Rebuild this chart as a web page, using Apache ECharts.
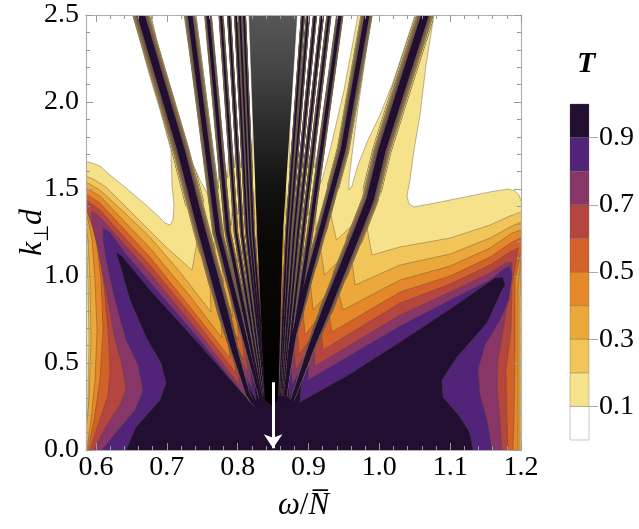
<!DOCTYPE html>
<html>
<head>
<meta charset="utf-8">
<script src="https://cdn.jsdelivr.net/npm/echarts@6.0.0/dist/echarts.min.js"></script>
<style>
html,body{margin:0;padding:0;background:#ffffff;}
#chart{width:639px;height:529px;}
</style>
</head>
<body>
<div id="chart"></div>
<script>
// ================= DATA =================
const xRange = [0.5859, 1.2];
const yRange = [0, 2.5];
const xTickLabels = [0.6, 0.7, 0.8, 0.9, 1.0, 1.1, 1.2];
const xMinorTicks = [0.62,0.64,0.66,0.68,0.72,0.74,0.76,0.78,0.82,0.84,0.86,0.88,0.92,0.94,0.96,0.98,1.02,1.04,1.06,1.08,1.12,1.14,1.16,1.18];
const yTickLabels = [0, 0.5, 1.0, 1.5, 2.0, 2.5];
const yMinorTicks = [0.1,0.2,0.3,0.4,0.6,0.7,0.8,0.9,1.1,1.2,1.3,1.4,1.6,1.7,1.8,1.9,2.1,2.2,2.3,2.4];
const cbBounds = [0,0.1,0.2,0.3,0.4,0.5,0.6,0.7,0.8,0.9,1.0];
const cbTickLabels = [0.1, 0.3, 0.5, 0.7, 0.9];
const arrowFrom = [0.85, 0.39];
const arrowTo = [0.85, 0.01];

// resonance fringes (T≈1 ridges): centre lines [ω/N, k⊥d], top -> bottom
const fringeL1 = [[0.659,2.56],[0.6635,2.5],[0.7200,1.724],[0.7482,1.276],[0.7722,0.920],[0.7934,0.603],[0.8160,0.299],[0.8287,0.247]];
const fringeL2 = [[0.7313,2.56],[0.7327,2.5],[0.7722,1.247],[0.8344,0.259]];
const fringeL3 = [[0.7567,2.56],[0.7581,2.5],[0.7864,1.247],[0.8358,0.259]];
const fringeL4 = [[0.7751,2.56],[0.7765,2.5],[0.7977,1.247],[0.8372,0.259]];
const fringeL5 = [[0.7864,2.56],[0.7878,2.5],[0.8061,1.247],[0.8386,0.259]];
const fringeL6 = [[0.7963,2.56],[0.7977,2.5],[0.8132,1.247],[0.8400,0.259]];
const fringeL7 = [[0.8019,2.56],[0.8033,2.5],[0.8174,1.247],[0.8407,0.259]];
const fringeL8 = [[0.8075,2.56],[0.8089,2.5],[0.8217,1.247],[0.8414,0.259]];
const noiseLeft  = [[0.8146,2.56],[0.8160,2.5],[0.8273,1.247],[0.8386,0.287]];
const noiseRight = [[0.8852,2.56],[0.8838,2.5],[0.8640,1.247],[0.8570,0.287]];
const noiseTip = [0.8485, 0.255];
const fringeR8 = [[0.8936,2.56],[0.8922,2.5],[0.8697,1.247],[0.8584,0.259]];
const fringeR7 = [[0.9007,2.56],[0.8993,2.5],[0.8739,1.247],[0.8598,0.259]];
const fringeR6 = [[0.9106,2.56],[0.9092,2.5],[0.8796,1.247],[0.8612,0.259]];
const fringeR5 = [[0.9205,2.56],[0.9191,2.5],[0.8852,1.247],[0.8626,0.259]];
const fringeR4 = [[0.9304,2.56],[0.9290,2.5],[0.8922,1.247],[0.8640,0.259]];
const fringeR3 = [[0.9459,2.56],[0.9445,2.5],[0.9021,1.247],[0.8654,0.259]];
const fringeR2 = [[0.9840,2.56],[0.9826,2.5],[0.9487,1.724],[0.9191,1.276],[0.8979,0.960],[0.8739,0.575],[0.8668,0.259]];
const fringeR1 = [[1.0673,2.56],[1.0645,2.5],[1.0306,2.069],[1.0038,1.724],[0.9868,1.437],[0.9713,1.276],[0.9304,0.862],[0.9050,0.603],[0.8824,0.345],[0.8739,0.253]];

// k⊥d of the tongue tips between neighbouring fringes, for T = 0.1 ... 0.9
const tipsL1L2  = [1.420,1.149,0.960,0.764,0.632,0.517,0.443,0.362,0.287];
const tipsL2L3  = [1.506,1.236,1.034,0.833,0.690,0.575,0.489,0.402,0.305];
const tipsL3L4  = [1.563,1.293,1.080,0.874,0.718,0.592,0.506,0.414,0.310];
const tipsInner = [1.621,1.351,1.121,0.908,0.747,0.615,0.517,0.425,0.316];
const tipsR3R2  = [1.517,1.264,1.063,0.862,0.707,0.586,0.500,0.414,0.310];
const tipsR2R1  = [1.494,1.207,1.006,0.805,0.661,0.546,0.460,0.379,0.293];

// left lobe: T >= 0.2 ... 0.9 contours (bottom -> left edge -> arm -> tip at fringe L1)
const leftLobe02 = [[0.5887,-0.057],[0.5887,0.287],[0.5901,0.632],[0.5887,0.977],[0.5859,1.207],[0.5774,1.207],[0.5774,1.575],[0.5859,1.575],[0.5986,1.552],[0.6141,1.511],[0.6565,1.339],[0.6989,1.167],[0.7228,1.080],[0.7356,1.034]];
const leftLobe03 = [[0.5774,-0.057],[0.5774,0.115],[0.5859,0.115],[0.5901,0.287],[0.5929,0.632],[0.5915,0.977],[0.5887,1.207],[0.5859,1.293],[0.5774,1.293],[0.5774,1.540],[0.5859,1.540],[0.6056,1.494],[0.6409,1.362],[0.6762,1.224],[0.7186,1.023],[0.7624,0.793]];
const leftLobe04 = [[0.5873,-0.057],[0.5873,0],[0.5929,0.172],[0.5986,0.402],[0.6014,0.690],[0.5986,0.977],[0.5944,1.207],[0.5887,1.322],[0.5859,1.351],[0.5774,1.351],[0.5774,1.506],[0.5859,1.506],[0.6056,1.460],[0.6409,1.310],[0.6762,1.161],[0.7327,0.885],[0.7779,0.644]];
const leftLobe05 = [[0.5887,-0.057],[0.5887,0],[0.5972,0.172],[0.6056,0.402],[0.6099,0.690],[0.6071,0.977],[0.6014,1.178],[0.5944,1.293],[0.5873,1.379],[0.5774,1.379],[0.5774,1.471],[0.5859,1.471],[0.6056,1.420],[0.6409,1.264],[0.6762,1.109],[0.7327,0.822],[0.7892,0.529]];
const leftLobe06 = [[0.5915,-0.057],[0.5915,0],[0.6028,0.144],[0.6169,0.316],[0.6198,0.460],[0.6169,0.690],[0.6113,0.948],[0.6042,1.149],[0.5958,1.276],[0.5887,1.356],[0.5859,1.402],[0.5859,1.437],[0.6056,1.379],[0.6409,1.218],[0.6762,1.063],[0.7398,0.747],[0.7977,0.443]];
const leftLobe07 = [[0.5972,-0.057],[0.5972,0],[0.6127,0.126],[0.6339,0.259],[0.6424,0.345],[0.6367,0.489],[0.6254,0.661],[0.6169,0.862],[0.6056,1.092],[0.5972,1.264],[0.5929,1.339],[0.5944,1.374],[0.6056,1.339],[0.6409,1.178],[0.6762,1.017],[0.7468,0.667],[0.8033,0.368]];
const leftLobe08 = [[0.6085,-0.057],[0.6085,0],[0.6311,0.115],[0.6551,0.230],[0.6664,0.345],[0.6593,0.489],[0.6424,0.632],[0.6268,0.862],[0.6141,1.092],[0.6099,1.207],[0.6099,1.276],[0.6198,1.253],[0.6409,1.132],[0.6762,0.966],[0.7468,0.632],[0.8118,0.299]];
const leftLobe09 = [[0.6424,-0.057],[0.6424,0],[0.6565,0.132],[0.6904,0.287],[0.6989,0.385],[0.6918,0.500],[0.6706,0.649],[0.6480,0.862],[0.6339,1.063],[0.6282,1.138],[0.6367,1.115],[0.6762,0.920],[0.7468,0.603],[0.8237,0.247]];

// right lobe: T >= 0.2 ... 0.9 contours (tip at fringe R1 -> arm -> right edge -> bottom)
const rightLobe02 = [[0.9897,1.121],[1.0292,1.167],[1.0998,1.218],[1.1562,1.293],[1.1845,1.345],[1.2,1.368],[1.2127,1.368],[1.2127,-0.057]];
const rightLobe03 = [[0.9657,0.948],[1.0292,1.063],[1.0998,1.126],[1.1562,1.218],[1.1873,1.287],[1.2,1.310],[1.2127,1.310],[1.2127,1.092],[1.2,1.063],[1.1986,0.862],[1.1986,-0.057]];
const rightLobe04 = [[0.9487,0.805],[1.0292,0.977],[1.0998,1.057],[1.1562,1.161],[1.1873,1.247],[1.2,1.264],[1.2127,1.264],[1.2127,1.121],[1.2,1.103],[1.1958,0.920],[1.1958,0.575],[1.1958,-0.057]];
const rightLobe05 = [[0.9332,0.678],[1.0292,0.908],[1.0998,1.000],[1.1562,1.109],[1.1873,1.195],[1.2,1.218],[1.2127,1.218],[1.2127,1.149],[1.2,1.138],[1.1916,0.977],[1.1916,0.575],[1.1901,0.172],[1.1887,0],[1.1887,-0.057]];
const rightLobe06 = [[0.9205,0.575],[1.0292,0.845],[1.0998,0.954],[1.1562,1.063],[1.1845,1.138],[1.1958,1.161],[1.1930,1.080],[1.1873,0.948],[1.1859,0.690],[1.1789,0.460],[1.1803,0.172],[1.1817,0],[1.1817,-0.057]];
const rightLobe07 = [[0.9092,0.483],[1.0292,0.776],[1.0998,0.908],[1.1562,1.017],[1.1789,1.075],[1.1873,1.080],[1.1873,1.006],[1.1817,0.862],[1.1746,0.690],[1.1675,0.517],[1.1661,0.374],[1.1703,0.172],[1.1732,0],[1.1732,-0.057]];
const rightLobe08 = [[0.8993,0.402],[1.0292,0.713],[1.0998,0.862],[1.1562,0.977],[1.1775,1.046],[1.1845,1.057],[1.1873,1.006],[1.1831,0.862],[1.1703,0.747],[1.1492,0.603],[1.1393,0.460],[1.1421,0.316],[1.1520,0.172],[1.1590,0],[1.1604,-0.057]];
const rightLobe09 = [[0.8880,0.276],[0.9586,0.437],[1.0292,0.621],[1.0998,0.810],[1.1633,0.989],[1.1746,0.994],[1.1775,0.948],[1.1732,0.920],[1.1520,0.730],[1.1097,0.534],[1.0885,0.402],[1.0899,0.305],[1.1139,0.190],[1.1280,0.098],[1.1323,0],[1.1323,-0.057]];

// T < 0.1 (white) regions
const whiteTopLeft = [[0.5774,2.529],[0.5774,1.649],[0.5901,1.655],[0.6056,1.632],[0.6198,1.580],[0.6424,1.506],[0.6706,1.408],[0.6875,1.345],[0.6974,1.305],[0.7045,1.293],[0.7087,1.322],[0.7101,1.408],[0.7073,1.523],[0.7059,1.724],[0.6904,1.954],[0.6734,2.184],[0.6522,2.5],[0.6522,2.529]];
const whiteL1L2 = [[0.6777,2.529],[0.6777,2.5],[0.6989,2.115],[0.7271,1.736],[0.7468,1.552],[0.7609,1.448],[0.7666,1.420],[0.7708,1.443],[0.7666,1.552],[0.7525,1.736],[0.7384,2.115],[0.7242,2.5],[0.7242,2.529]];
const whiteR3R2 = [[0.9445,2.529],[0.9445,2.5],[0.9304,2.011],[0.9205,1.667],[0.9148,1.552],[0.9148,1.517],[0.9191,1.552],[0.9304,1.724],[0.9502,2.069],[0.9699,2.5],[0.9699,2.529]];
const whiteR2R1 = [[0.9897,2.529],[0.9897,2.5],[0.9798,2.241],[0.9685,1.925],[0.9614,1.695],[0.9572,1.552],[0.9572,1.494],[0.9614,1.517],[0.9699,1.638],[0.9840,1.782],[1.0009,1.925],[1.0179,2.098],[1.0320,2.270],[1.0504,2.5],[1.0504,2.529]];
const whiteTopRight = [[1.0772,2.529],[1.0772,2.5],[1.0659,2.213],[1.0574,1.925],[1.0490,1.724],[1.0433,1.552],[1.0391,1.460],[1.0419,1.414],[1.0490,1.397],[1.0715,1.414],[1.1139,1.448],[1.1562,1.483],[1.1817,1.500],[1.1916,1.489],[1.1972,1.466],[1.2000,1.431],[1.2127,1.431],[1.2127,2.529]];

// ================= STYLE =================
const FONT = 'Liberation Serif';
const levelColors = ['#f7e28c','#f2c55b','#eba83b','#e48829','#d5612a','#b4463f','#873667','#512379','#210e30'];
const cbColors = ['#ffffff'].concat(levelColors);
const contourColor = 'rgba(80,70,50,0.55)';
const rimColor = '#6a604a';
const frameColor = '#b0b0b0';
const stripWidths = {
  big:   [18,15.5,14,12.5,11.5,10.5,9.5,8.5,7.5],
  mid:   [11.5,10,9,8,7.3,6.7,6.1,5.5,4.8],
  small: [6.5,5.8,5.3,4.9,4.5,4.2,3.9,3.6,3.2],
  thin:  [4,3.6,3.3,3.1,2.9,2.7,2.5,2.3,2.0],
  hair:  [3,2.8,2.6,2.4,2.3,2.2,2.1,2.0,1.8]
};
const wallClass = ['big','mid','small','thin','hair','hair','hair','hair',null,null,'hair','hair','hair','hair','thin','small','mid','big'];
const D_LEVEL = 0.15, D_WHITE = 0.25, TAPER_FROM = 0.8, TAPER_STEP = 0.04;
// fringes get thinner where they converge near the bottom of the fan
function taper(k){ return k >= TAPER_FROM ? 1 : Math.max(0.35, 0.4 + 0.6 * (k - 0.25) / (TAPER_FROM - 0.25)); }

// ================= GEOMETRY HELPERS =================
const walls = [fringeL1,fringeL2,fringeL3,fringeL4,fringeL5,fringeL6,fringeL7,fringeL8,noiseLeft,noiseRight,fringeR8,fringeR7,fringeR6,fringeR5,fringeR4,fringeR3,fringeR2,fringeR1];
const leftArms = [leftLobe02,leftLobe03,leftLobe04,leftLobe05,leftLobe06,leftLobe07,leftLobe08,leftLobe09];
const rightArms = [rightLobe02,rightLobe03,rightLobe04,rightLobe05,rightLobe06,rightLobe07,rightLobe08,rightLobe09];
const gapTable = [null,tipsL1L2,tipsL2L3,tipsL3L4,tipsInner,tipsInner,tipsInner,tipsInner,tipsInner,tipsInner,tipsInner,tipsInner,tipsInner,tipsInner,tipsInner,tipsR3R2,tipsR2R1];
const minK = arr => Math.min.apply(null, arr.map(p => p[1]));
function gapLeftWall(g){ return g <= 8 ? g - 1 : g; }
function gapRightWall(g){ return g <= 8 ? g : g + 1; }
function wallLeftGap(w){ return w <= 7 ? w : w - 1; }
function wallRightGap(w){ return w <= 7 ? w + 1 : w; }
function tipK(g, li){
  if (g === 0) return li === 0 ? minK(whiteTopLeft) : leftArms[li-1][leftArms[li-1].length-1][1];
  if (g === 17) return li === 0 ? minK(whiteTopRight) : rightArms[li-1][0][1];
  return gapTable[g][li];
}
function wallX(wall, k){
  if (k >= wall[0][1]) return wall[0][0];
  for (let i = 0; i < wall.length - 1; i++) {
    const a = wall[i], b = wall[i+1];
    if (k <= a[1] && k >= b[1]) { const t = (a[1]-k)/(a[1]-b[1]); return a[0] + t*(b[0]-a[0]); }
  }
  return wall[wall.length-1][0];
}
function wallAbove(wall, k0){
  const out = [];
  for (let i = 0; i < wall.length; i++) { if (wall[i][1] > k0) out.push(wall[i]); }
  if (k0 > wall[wall.length-1][1]) out.push([wallX(wall, k0), k0]);
  return out;
}
// pieces of a fringe centre line above kmin: one long piece above TAPER_FROM, short pieces below
function wallPieces(wall, kmin){
  const pieces = [];
  const lo = Math.max(kmin, wall[wall.length-1][1]);
  if (lo < wall[0][1]) {
    const upLow = Math.max(lo, TAPER_FROM);
    const up = wall.filter(p => p[1] > upLow);
    up.push([wallX(wall, upLow), upLow]);
    if (up.length >= 2) pieces.push({ pts: up, k: 2 });
  }
  let k = Math.min(TAPER_FROM, wall[0][1]);
  while (k > lo + 1e-6) {
    const k2 = Math.max(lo, k - TAPER_STEP);
    pieces.push({ pts: [[wallX(wall, k), k], [wallX(wall, k2), k2]], k: (k + k2) / 2 });
    k = k2;
  }
  return pieces;
}
function levelPolygon(li){
  const out = leftArms[li-1].slice();
  let prevK = out[out.length-1][1];
  for (let g = 1; g <= 16; g++) {
    const kg = gapTable[g][li];
    const lw = walls[gapLeftWall(g)], rw = walls[gapRightWall(g)];
    const kc = Math.max(prevK, kg) + D_LEVEL;
    if (g === 9) out.push([wallX(walls[8], kc), kc]);
    out.push([wallX(lw, kc), kc]);
    out.push([(wallX(lw, kg) + wallX(rw, kg)) / 2, kg]);
    prevK = kg;
  }
  const ra = rightArms[li-1];
  const kc = Math.max(prevK, ra[0][1]) + D_LEVEL;
  out.push([wallX(fringeR1, kc), kc]);
  return out.concat(ra);
}

function renderField(params, api){
  const cs = params.coordSys;
  const C = p => api.coord(p);
  const kids = [];
  const addPoly = (arr, fill, stroke) => kids.push({
    type: 'polygon', silent: true, shape: { points: arr.map(C) },
    style: { fill: fill, stroke: stroke ? contourColor : null, lineWidth: stroke ? 0.7 : 0 }
  });
  const addLine = (arr, color, w, cap) => { if (arr.length < 2) return; kids.push({
    type: 'polyline', silent: true, shape: { points: arr.map(C) },
    style: { fill: null, stroke: color, lineWidth: w, lineCap: cap || 'butt', lineJoin: 'round' }
  }); };
  const drawStrips = li => {
    for (let w = 0; w < walls.length; w++) {
      if (!wallClass[w]) continue;
      const wd = stripWidths[wallClass[w]][li];
      const kclip = Math.max(tipK(wallLeftGap(w), li), tipK(wallRightGap(w), li));
      wallPieces(walls[w], kclip).forEach(pc => addLine(pc.pts, rimColor, wd * taper(pc.k) + 1.2, 'round'));
    }
    for (let w = 0; w < walls.length; w++) {
      if (!wallClass[w]) continue;
      const wd = stripWidths[wallClass[w]][li];
      wallPieces(walls[w], -1).forEach(pc => addLine(pc.pts, levelColors[li], wd * taper(pc.k), 'round'));
    }
  };
  // T >= 0.1 everywhere except the white regions
  addPoly([[xRange[0]-0.03,-0.1],[xRange[1]+0.03,-0.1],[xRange[1]+0.03,2.6],[xRange[0]-0.03,2.6]], levelColors[0], false);
  for (let g = 2; g <= 14; g++) {
    const k = tipK(g, 0);
    const lw = walls[gapLeftWall(g)], rw = walls[gapRightWall(g)];
    const pts = wallAbove(lw, k + D_WHITE).concat([[(wallX(lw,k)+wallX(rw,k))/2, k]], wallAbove(rw, k + D_WHITE).reverse());
    addPoly(pts, '#ffffff', true);
  }
  drawStrips(0);
  [whiteTopLeft, whiteL1L2, whiteR3R2, whiteR2R1, whiteTopRight].forEach(h => addPoly(h, '#ffffff', true));
  for (let li = 1; li <= 8; li++) {
    addPoly(levelPolygon(li), levelColors[li], true);
    drawStrips(li);
  }
  // unresolved (numerically noisy) region of very dense fringes
  kids.push({
    type: 'polygon', silent: true,
    shape: { points: noiseLeft.concat([noiseTip], noiseRight.slice().reverse()).map(C) },
    style: { fill: new echarts.graphic.LinearGradient(0, 0, 0, 1, [
      {offset: 0, color: '#5a5a5a'}, {offset: 0.15, color: '#474747'}, {offset: 0.3, color: '#2c2c2c'},
      {offset: 0.45, color: '#131313'}, {offset: 0.6, color: '#0a0805'}, {offset: 1, color: '#000000'}]) }
  });
  return { type: 'group', children: kids,
    clipPath: { type: 'rect', shape: { x: cs.x, y: cs.y, width: cs.width, height: cs.height } } };
}

function renderBar(params, api){
  const lo = api.value(1), hi = api.value(2);
  const p0 = api.coord([0, lo]), p1 = api.coord([0, hi]);
  const w = api.size([1, 0])[0];
  return { type: 'rect', shape: { x: p0[0] - w/2, y: p1[1], width: w, height: p0[1] - p1[1] },
    style: { fill: cbColors[params.dataIndex], stroke: 'rgba(110,100,80,0.5)', lineWidth: 0.7 } };
}

const fmt1 = v => Number(v).toFixed(1);
const labelStyle = { fontFamily: FONT, fontSize: 28, color: '#000' };
function xAx(pos, major){
  return { gridIndex: 0, type: 'value', min: xRange[0], max: xRange[1], position: pos, z: 10,
    axisLine: { show: major, onZero: false, lineStyle: { color: frameColor, width: 1.2 } },
    axisTick: { show: true, inside: true, length: major ? 7 : 4, customValues: major ? xTickLabels : xMinorTicks, lineStyle: { color: '#999', width: 1 } },
    axisLabel: (pos === 'bottom' && major) ? Object.assign({ show: true, customValues: xTickLabels, formatter: fmt1, margin: 4 }, labelStyle) : { show: false },
    splitLine: { show: false } };
}
function yAx(pos, major){
  return { gridIndex: 0, type: 'value', min: yRange[0], max: yRange[1], position: pos, z: 10,
    axisLine: { show: major, onZero: false, lineStyle: { color: frameColor, width: 1.2 } },
    axisTick: { show: true, inside: true, length: major ? 7 : 4, customValues: major ? yTickLabels : yMinorTicks, lineStyle: { color: '#999', width: 1 } },
    axisLabel: (pos === 'left' && major) ? Object.assign({ show: true, customValues: yTickLabels, formatter: fmt1, margin: 7 }, labelStyle) : { show: false },
    splitLine: { show: false } };
}
const xMain = xAx('bottom', true);
xMain.name = '{w|ω}{s|/}{w|N\u0305}';
xMain.nameLocation = 'middle';
xMain.nameGap = 40;
xMain.nameMoveOverlap = false;
xMain.nameTextStyle = { fontFamily: FONT, fontSize: 31, color: '#000',
  rich: { w: { fontFamily: FONT, fontSize: 31, fontStyle: 'italic', color: '#000' }, s: { fontFamily: FONT, fontSize: 31, color: '#000' } } };
const yMain = yAx('left', true);
yMain.name = '{k|k}{s|⊥}{k|d}';
yMain.nameLocation = 'middle';
yMain.nameGap = 33;
yMain.nameRotate = 90;
yMain.nameMoveOverlap = false;
yMain.nameTextStyle = { fontFamily: FONT, fontSize: 32, color: '#000',
  rich: { k: { fontFamily: FONT, fontSize: 32, fontStyle: 'italic', color: '#000', lineHeight: 40, verticalAlign: 'middle' },
          s: { fontFamily: FONT, fontSize: 20, color: '#000', lineHeight: 40, verticalAlign: 'bottom' } } };

const option = {
  animation: false,
  backgroundColor: '#ffffff',
  title: { text: 'T', left: 572, top: 44, textStyle: { fontFamily: FONT, fontStyle: 'italic', fontWeight: 'bold', fontSize: 30, color: '#000' } },
  grid: [ { left: 86, top: 15, width: 435, height: 435, containLabel: false, outerBoundsMode: 'none' },
          { left: 570, top: 104, width: 19, height: 336, containLabel: false, outerBoundsMode: 'none' } ],
  xAxis: [ xMain, xAx('bottom', false), xAx('top', true), xAx('top', false),
    { gridIndex: 1, type: 'category', data: ['T'], show: false } ],
  yAxis: [ yMain, yAx('left', false), yAx('right', true), yAx('right', false),
    { gridIndex: 1, type: 'value', min: 0, max: 1, position: 'right',
      axisLine: { show: false }, splitLine: { show: false },
      axisTick: { show: true, inside: false, length: 9, customValues: cbTickLabels, lineStyle: { color: '#aaa' } },
      axisLabel: Object.assign({ customValues: cbTickLabels, formatter: fmt1, margin: 10 }, labelStyle) } ],
  series: [
    { type: 'custom', xAxisIndex: 0, yAxisIndex: 0, renderItem: renderField, data: [[0.9, 1.25]], silent: true, z: 1 },
    { type: 'lines', coordinateSystem: 'cartesian2d', xAxisIndex: 0, yAxisIndex: 0, z: 5, silent: true,
      symbol: ['none', 'arrow'], symbolSize: 14,
      lineStyle: { color: '#ffffff', width: 3, opacity: 1 },
      data: [ { coords: [arrowFrom, arrowTo] } ] },
    { type: 'custom', xAxisIndex: 4, yAxisIndex: 4, renderItem: renderBar, silent: true,
      encode: { x: 0, y: [1, 2] },
      data: cbBounds.slice(0, -1).map((lo, i) => [0, lo, cbBounds[i + 1]]) }
  ]
};
const chart = echarts.init(document.getElementById('chart'));
chart.setOption(option);
</script>
</body>
</html>
